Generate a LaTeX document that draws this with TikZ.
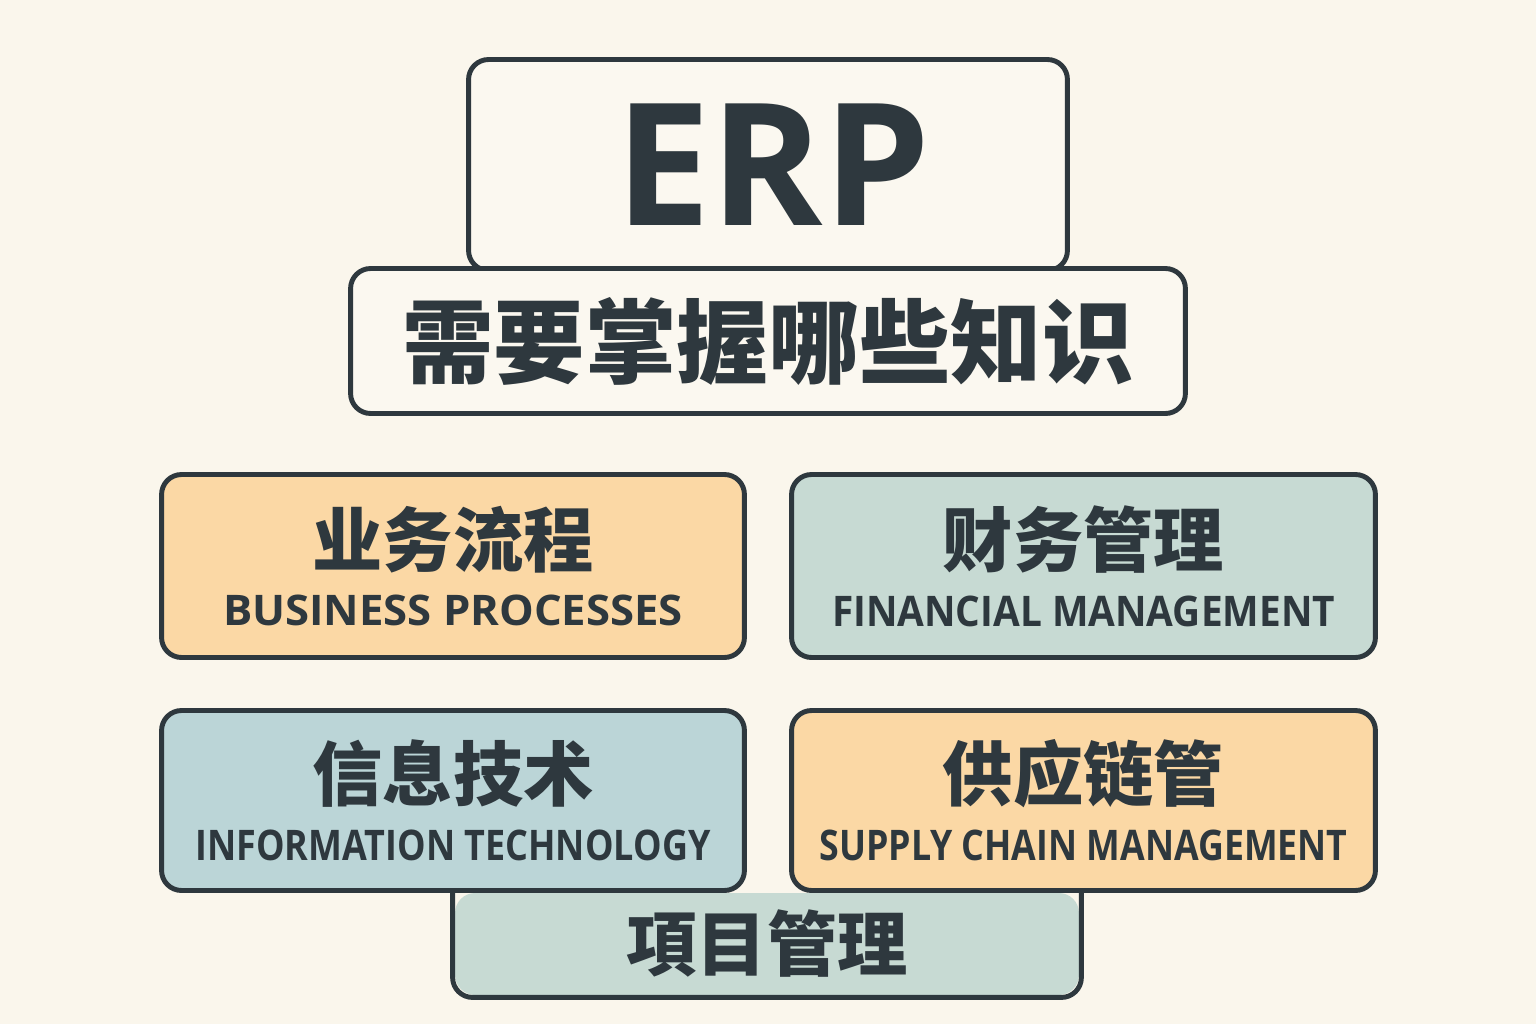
\documentclass[tikz,border=0pt]{standalone}
\usepackage{fontspec}
\setmainfont{Open Sans}
\newfontfamily\cjk{Noto Sans CJK SC}
\usetikzlibrary{positioning}
\definecolor{bgcol}{HTML}{FAF6EC}
\definecolor{inkcol}{HTML}{2E383E}
\definecolor{orangefill}{HTML}{FBD8A5}
\definecolor{sagefill}{HTML}{C7DAD3}
\definecolor{bluefill}{HTML}{BBD5D7}
\definecolor{paperfill}{HTML}{FBF8F0}
\newcommand{\entext}[2]{\resizebox{#1}{\height}{#2}}
\newcommand{\zhtitle}[1]{{\cjk\bfseries\fontsize{40}{40}\selectfont #1}}

\begin{document}
\begin{tikzpicture}[x=0.02cm,y=-0.02cm,
  box/.style={draw=inkcol,line width=2.8pt,rounded corners=0.4cm,text=inkcol,
    align=center,inner sep=0pt,font=\bfseries\fontsize{24}{34}\selectfont},
  outline/.style={draw=inkcol,line width=2.8pt,rounded corners=0.4cm}
]
\fill[bgcol] (0,0) rectangle (1536,1024);
\useasboundingbox (0,0) rectangle (1536,1024);

\node[box,fill=paperfill,minimum width=11.98cm,minimum height=4.22cm,
  font=\bfseries\fontsize{97}{97}\selectfont] (erp) at (768,165) {\hspace{0.2cm}ERP};
\node[box,fill=paperfill,minimum width=16.7cm,minimum height=2.9cm,
  font=\cjk\bfseries\fontsize{52}{52}\selectfont] (question) at (768,341) {需要掌握哪些知识};

% project box sits behind the lower row
\node[box,draw=none,fill=sagefill,minimum width=12.48cm,minimum height=2.04cm,
  font=\cjk\bfseries\fontsize{40}{40}\selectfont] (project) at (767,944) {項目管理};
\draw[outline] (project.north west) -- (project.south west) -- (project.south east) -- (project.north east);

\node[box,fill=orangefill,minimum width=11.66cm,minimum height=3.66cm] (process) at (453,566)
  {\zhtitle{业务流程}\\\entext{9.2cm}{BUSINESS PROCESSES}};
\node[box,fill=sagefill,minimum width=11.68cm,minimum height=3.66cm] (finance) at (1083.5,566)
  {\zhtitle{财务管理}\\\entext{10.06cm}{FINANCIAL MANAGEMENT}};
\node[box,fill=bluefill,minimum width=11.66cm,minimum height=3.6cm] (infotech) at (453,800.5)
  {\zhtitle{信息技术}\\\entext{10.3cm}{INFORMATION TECHNOLOGY}};
\node[box,fill=orangefill,minimum width=11.68cm,minimum height=3.6cm] (supply) at (1083.5,800.5)
  {\zhtitle{供应链管}\\\entext{10.56cm}{SUPPLY CHAIN MANAGEMENT}};
\end{tikzpicture}
\end{document}
